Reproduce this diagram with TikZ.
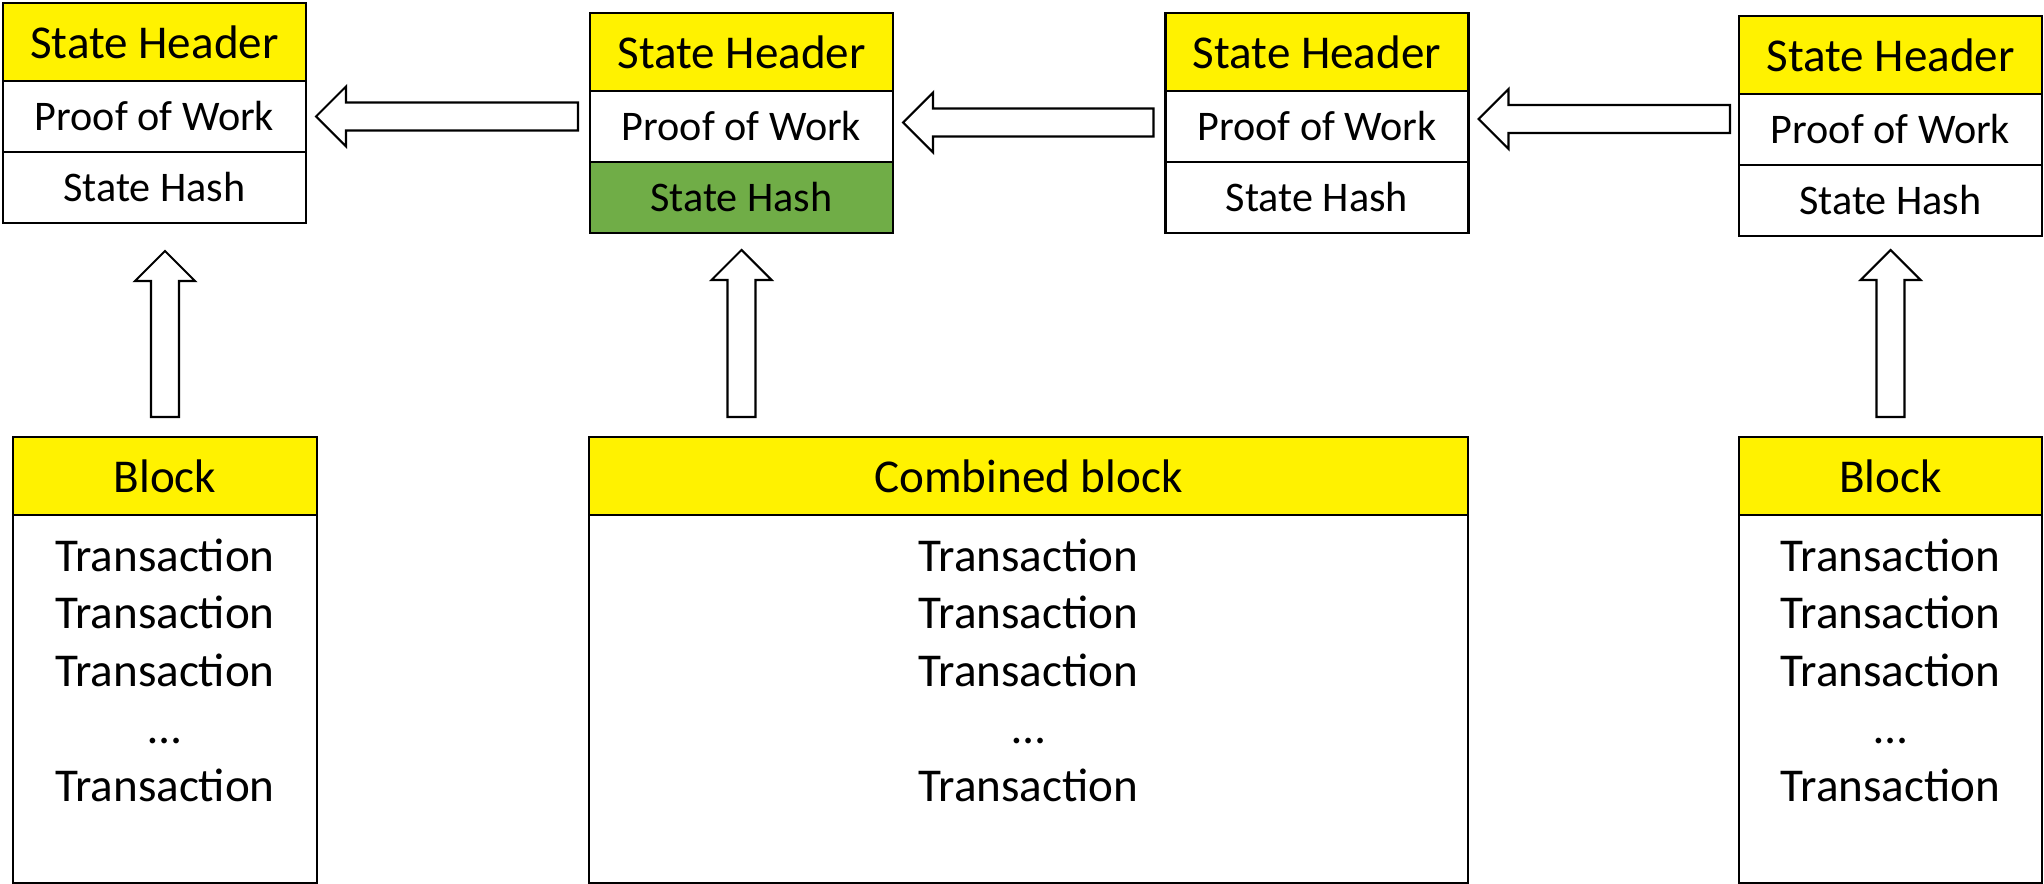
\documentclass[tikz,border=0pt]{standalone}
\usepackage{fontspec}
\setmainfont{Carlito}
\usetikzlibrary{positioning,calc}
\definecolor{hashgreen}{RGB}{112,173,71}
\newcommand{\fatarrow}[2]{%
  \draw[hollow] let \p1=($(#2)!0.3cm!(#1)$) in
    ($(#1)!0.14cm!90:(#2)$) -- ($(\p1)!0.14cm!-90:(#1)$) -- ($(\p1)!0.3cm!-90:(#1)$) -- (#2)
    -- ($(\p1)!0.3cm!90:(#1)$) -- ($(\p1)!0.14cm!90:(#1)$) -- ($(#1)!0.14cm!-90:(#2)$) -- cycle;}

\begin{document}
\begin{tikzpicture}[every node/.style={draw, inner sep=0pt, outer sep=0pt, line width=0.8pt},
            head/.style={fill=yellow, minimum width=3.03cm, minimum height=0.78cm, font=\fontsize{13.4}{16}\selectfont},
            cell/.style={fill=white, minimum width=3.03cm, minimum height=0.71cm, font=\fontsize{12}{14}\selectfont},
            hollow/.style={draw=black, fill=white, line width=0.6pt}]
            \tikzset{green cell/.style={fill=hashgreen}}
            \tikzset{list/.style={draw=none, align=center, font=\fontsize{13.4}{16.35}\selectfont}}
            \useasboundingbox (0,0) rectangle (20.44,-8.84);
            \node [head] (sh1) at (1.545,-0.42) {State Header};
            \node [cell, below=0pt of sh1] (pw1) {Proof of Work};
            \node [cell, below=0pt of pw1] (hs1) {State Hash};
            \node [head] (sh2) at (7.415,-0.52) {State Header};
            \node [cell, below=0pt of sh2] (pw2) {Proof of Work};
            \node [cell, green cell, below=0pt of pw2] (hs2) {State Hash};
            \node [head] (sh3) at (13.17,-0.52) {State Header};
            \node [cell, below=0pt of sh3] (pw3) {Proof of Work};
            \node [cell, below=0pt of pw3] (hs3) {State Hash};
            \node [head] (sh4) at (18.905,-0.55) {State Header};
            \node [cell, below=0pt of sh4] (pw4) {Proof of Work};
            \node [cell, below=0pt of pw4] (hs4) {State Hash};
            \node [head, minimum width=3.04cm] (bk1) at (1.65,-4.76) {Block};
            \node [cell, minimum width=3.04cm, minimum height=3.68cm, below=0pt of bk1] (bd1) {};
            \node [list] (tx1) at (bd1.center |- 0,-6.70) {Transaction\\Transaction\\Transaction\\\ldots\\Transaction};
            \node [head, minimum width=8.79cm] (bk2) at (10.285,-4.76) {Combined block};
            \node [cell, minimum width=8.79cm, minimum height=3.68cm, below=0pt of bk2] (bd2) {};
            \node [list] (tx2) at (bd2.center |- 0,-6.70) {Transaction\\Transaction\\Transaction\\\ldots\\Transaction};
            \node [head] (bk3) at (18.905,-4.76) {Block};
            \node [cell, minimum height=3.68cm, below=0pt of bk3] (bd3) {};
            \node [list] (tx3) at (bd3.center |- 0,-6.70) {Transaction\\Transaction\\Transaction\\\ldots\\Transaction};
            \coordinate (l1a) at ($(pw2.west |- pw1.east)+(-0.12,0)$);
            \coordinate (l1b) at ($(pw1.east)+(0.1,0)$);
            \coordinate (l2a) at ($(pw3.west)+(-0.12,0.04)$);
            \coordinate (l2b) at ($(pw2.east |- l2a)+(0.1,0)$);
            \coordinate (l3a) at ($(pw4.west)+(-0.09,0.105)$);
            \coordinate (l3b) at ($(pw3.east |- l3a)+(0.1,0)$);
            \coordinate (u1a) at ($(bk1.north)+(0,0.2)$);
            \coordinate (u1b) at ($(u1a |- hs1.south)+(0,-0.28)$);
            \coordinate (u2a) at ($(hs2.south |- bk2.north)+(0,0.2)$);
            \coordinate (u2b) at ($(hs2.south)+(0,-0.17)$);
            \coordinate (u3a) at ($(bk3.north)+(0,0.2)$);
            \coordinate (u3b) at ($(hs4.south)+(0,-0.14)$);
            \fatarrow{l1a}{l1b}
            \fatarrow{l2a}{l2b}
            \fatarrow{l3a}{l3b}
            \fatarrow{u1a}{u1b}
            \fatarrow{u2a}{u2b}
            \fatarrow{u3a}{u3b}
        \end{tikzpicture}
\end{document}
